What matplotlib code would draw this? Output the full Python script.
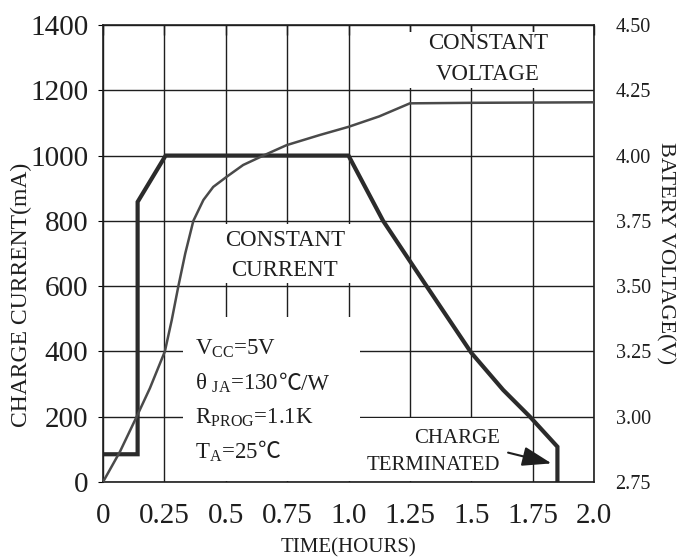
import matplotlib
matplotlib.use('Agg')
import matplotlib.pyplot as plt
from matplotlib.patches import Rectangle

# --- Fonts ---
SERIF = ['Liberation Serif', 'DejaVu Serif', 'Noto Sans CJK SC']
CJK = ['Noto Sans CJK SC', 'DejaVu Sans']
plt.rcParams['font.family'] = SERIF
plt.rcParams['mathtext.fontset'] = 'custom'
plt.rcParams['mathtext.rm'] = 'Liberation Serif'
plt.rcParams['mathtext.it'] = 'Liberation Serif:italic'

# --- Data ---
current_time = [0.0, 0.141, 0.141, 0.255, 1.0, 1.141, 1.318, 1.5, 1.63, 1.739, 1.851, 1.851]
current_ma = [85, 85, 858, 1000, 1000, 800, 600, 396, 282, 200, 108, 0]

voltage_time = [0.0, 0.069, 0.137, 0.191, 0.252, 0.28, 0.307, 0.335, 0.368, 0.409,
                0.449, 0.504, 0.571, 0.653, 0.748, 0.884, 1.0, 1.125, 1.25, 1.5, 2.0]
voltage_v = [2.75, 2.866, 3.0, 3.109, 3.25, 3.37, 3.5, 3.625, 3.75, 3.83,
             3.88, 3.919, 3.964, 4.0, 4.04, 4.079, 4.11, 4.15, 4.20, 4.202, 4.204]

time_ticks = [0, 0.25, 0.5, 0.75, 1.0, 1.25, 1.5, 1.75, 2.0]
time_tick_labels = ['0', '0.25', '0.5', '0.75', '1.0', '1.25', '1.5', '1.75', '2.0']
current_ticks = [0, 200, 400, 600, 800, 1000, 1200, 1400]
voltage_ticks = [2.75, 3.00, 3.25, 3.50, 3.75, 4.00, 4.25, 4.50]

INK = '#1e1e1e'
W, H = 678, 560

fig = plt.figure(figsize=(W / 100, H / 100), dpi=100)
ax = fig.add_axes([103 / W, 78 / H, 491 / W, 457 / H])
ax.set_axisbelow(True)

ax.set_xlim(0, 2.0)
ax.set_ylim(0, 1400)
ax.set_xticks(time_ticks)
ax.set_xticklabels(time_tick_labels)
ax.set_yticks(current_ticks)
ax.grid(True, color=INK, linewidth=1.0)
ax.tick_params(axis='x', bottom=False, top=True, direction='in', length=7,
               width=1.0, color=INK, labelsize=21, pad=15, labelcolor=INK)
ax.tick_params(axis='y', left=False, labelsize=21, pad=7, labelcolor=INK)
for s in ax.spines.values():
    s.set_linewidth(1.2)
    s.set_color(INK)

# white areas behind the annotations (grid is hidden there)
blank_areas = [
    (1.02, 1206, 0.97, 172),    # CONSTANT VOLTAGE
    (0.42, 610, 0.68, 180),     # CONSTANT CURRENT
    (0.326, 3, 0.721, 502),     # conditions
    (1.047, 3, 0.653, 194),     # CHARGE TERMINATED
]
for x0, y0, w, h in blank_areas:
    ax.add_patch(Rectangle((x0, y0), w, h, facecolor='white', edgecolor='none', zorder=1))

ax.plot(current_time, current_ma, color='#2b2b2b', linewidth=3.0,
        solid_joinstyle='miter', zorder=2)

ax2 = ax.twinx()
ax2.set_ylim(2.75, 4.50)
ax2.set_yticks(voltage_ticks)
ax2.set_yticklabels([f'{v:.2f}' for v in voltage_ticks])
ax2.tick_params(axis='y', right=False, labelsize=14.5, pad=12, labelcolor=INK)
for s in ax2.spines.values():
    s.set_visible(False)
ax2.plot(voltage_time, voltage_v, color='#4a4a4a', linewidth=1.8, zorder=2)

# --- annotations ---
txt = dict(color=INK, zorder=3, va='baseline')
ax.text(1.568, 1325, 'CONSTANT', ha='center', fontsize=16.5, **txt)
ax.text(1.568, 1233, 'VOLTAGE', ha='center', fontsize=16.5, **txt)
ax.text(0.741, 723, 'CONSTANT', ha='center', fontsize=16.5, **txt)
ax.text(0.741, 631, 'CURRENT', ha='center', fontsize=16.5, **txt)

ax.text(0.375, 389, r'V$_{\mathrm{CC}}$=5V', ha='left', fontsize=16.5, **txt)
theta_txt = ax.text(0.375, 282, r'θ $_{\mathrm{JA}}$=130', ha='left', fontsize=16.5, **txt)
ax.text(0.375, 180, r'R$_{\mathrm{PROG}}$=1.1K', ha='left', fontsize=16.5, **txt)
ta_txt = ax.text(0.375, 72, r'T$_{\mathrm{A}}$=25', ha='left', fontsize=16.5, **txt)

# mathtext cannot fall back for ℃, so the rest of each line is set as plain
# text pieces placed one after another
fig.canvas.draw()
renderer = fig.canvas.get_renderer()
tails = [(theta_txt, [('℃', CJK), ('/W', SERIF)]),
         (ta_txt, [('℃', CJK)])]
for base, pieces in tails:
    prev = base
    for piece, fam in pieces:
        bb = prev.get_window_extent(renderer)
        x_end = ax.transData.inverted().transform((bb.x1, bb.y0))[0]
        prev = ax.text(x_end, base.get_position()[1], piece, ha='left',
                       fontsize=16.5, family=fam, **txt)

ax.text(1.617, 118, 'CHARGE', ha='right', fontsize=15, **txt)
ax.text(1.617, 37, 'TERMINATED', ha='right', fontsize=15, **txt)
ax.annotate('', xy=(1.827, 57), xytext=(1.65, 90), zorder=3,
            arrowprops=dict(arrowstyle='-|>,head_length=0.9,head_width=0.3',
                            mutation_scale=20, lw=1.5, color=INK,
                            shrinkA=0, shrinkB=0))

# --- axis titles ---
fig.text(21.7 / W, 1 - 295 / H, 'CHARGE CURRENT(mA)', rotation=90,
         ha='center', va='center', fontsize=17, color=INK)
fig.text(665 / W, 1 - 253 / H, 'BATERY VOLTAGE(V)', rotation=270,
         ha='center', va='center', fontsize=16, color=INK)
fig.text(348.5 / W, 1 - 548 / H, 'TIME(HOURS)', ha='center', va='center',
         fontsize=15, color=INK)

fig.savefig('out.png', dpi=100)
